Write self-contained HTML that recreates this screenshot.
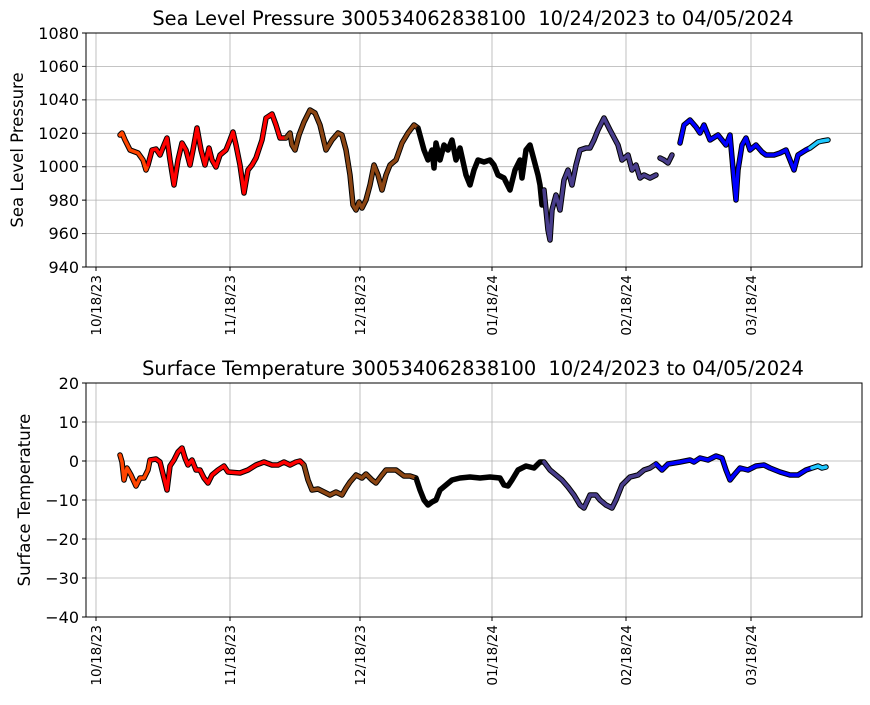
<!DOCTYPE html><html><head><style>body{margin:0;background:#fff}svg{font-family:"DejaVu Sans","Liberation Sans",sans-serif}</style></head><body>
<svg width="870" height="700" xmlns="http://www.w3.org/2000/svg">
<g stroke="#b0b0b0" stroke-width="0.8">
<line x1="96" y1="33" x2="96" y2="267"/><line x1="230" y1="33" x2="230" y2="267"/><line x1="360" y1="33" x2="360" y2="267"/><line x1="492" y1="33" x2="492" y2="267"/><line x1="626" y1="33" x2="626" y2="267"/><line x1="751" y1="33" x2="751" y2="267"/>
<line x1="86" y1="66.4" x2="862" y2="66.4"/><line x1="86" y1="99.9" x2="862" y2="99.9"/><line x1="86" y1="133.3" x2="862" y2="133.3"/><line x1="86" y1="166.7" x2="862" y2="166.7"/><line x1="86" y1="200.1" x2="862" y2="200.1"/><line x1="86" y1="233.6" x2="862" y2="233.6"/>
<line x1="96" y1="383" x2="96" y2="617"/><line x1="230" y1="383" x2="230" y2="617"/><line x1="360" y1="383" x2="360" y2="617"/><line x1="492" y1="383" x2="492" y2="617"/><line x1="626" y1="383" x2="626" y2="617"/><line x1="751" y1="383" x2="751" y2="617"/>
<line x1="86" y1="422" x2="862" y2="422"/><line x1="86" y1="461" x2="862" y2="461"/><line x1="86" y1="500" x2="862" y2="500"/><line x1="86" y1="539" x2="862" y2="539"/><line x1="86" y1="578" x2="862" y2="578"/>
</g>
<g fill="none" stroke-linejoin="round" stroke-linecap="round">
<g stroke="#000" stroke-width="5.5">
<polyline points="120,135 122,133 125,140 130,150 138,153 143,160 146,170 148,165 152,150 156,149 160,155 164,145 167,138 170,160 174,185 178,160 182,143 186,150 190,165 193,150 197,128 201,150 205,165 209,148 212,160 216,167 220,155 226,150 230,140 233,132 236,145 240,165 244,193 248,170 252,165 256,158 262,140 266,118 272,114 276,125 280,138 286,138 290,133 292,145 295,150 299,135 304,122 310,110 315,113 320,125 326,150 332,140 338,133 342,135 346,150 350,175 353,205 356,210 359,202 362,208 366,200 370,185 374,165 378,175 382,190 386,175 390,165 396,160 402,143 408,133 414,125 418,128 424,150 428,160 432,150 434,168 436,143 440,160 444,145 448,150 452,140 456,160 460,148 466,175 470,185 474,170 478,160 484,162 490,160 494,165 498,175 504,178 510,190 515,170 520,160 522,178 526,150 530,145 534,160 538,175 540,185 542,205 544,190 548,230 550,240 552,210 556,195 560,210 564,180 568,170 572,185 576,165 580,150 586,148 590,148 594,140 598,130 604,118 610,130 618,145 622,160 628,155 632,170 636,165 640,178 644,175 650,178 656,175"/>
<polyline points="660,158 664,160 668,163 672,155"/>
<polyline points="680,143 684,125 690,120 696,127 700,133 704,125 710,140 718,135 726,145 730,135 734,180 736,200 738,170 742,145 746,138 750,150 756,145 762,152 766,155 774,155 780,153 786,150 790,160 794,170 798,155 806,150 810,148 814,145 818,142 822,141 828,140"/>
<polyline points="120,455 122,462 124,480 127,468 131,475 136,486 140,478 144,478 148,470 150,460 156,459 160,462 164,478 167,490 170,466 174,460 178,452 182,448 185,458 188,465 192,460 196,470 200,470 204,478 208,483 212,475 218,470 224,466 228,472 240,473 248,470 256,465 264,462 272,465 278,465 284,462 290,465 296,462 300,461 304,465 308,480 312,490 318,489 324,492 330,495 336,492 342,495 346,488 350,482 356,475 362,478 366,474 372,480 376,483 382,475 386,470 396,470 404,476 410,476 416,478 420,490 424,500 428,505 432,502 436,500 440,490 446,485 452,480 460,478 470,477 480,478 490,477 500,478 504,485 508,486 512,480 518,470 526,466 534,468 540,462 544,462 550,470 556,475 562,480 568,487 574,495 580,505 584,508 590,495 596,495 600,500 606,505 612,508 616,500 622,485 630,477 638,475 644,470 650,468 656,464 662,470 668,464 674,463 680,462 690,460 694,462 700,458 708,460 716,456 722,458 726,470 730,480 734,475 740,468 748,470 756,466 764,465 770,468 780,472 790,475 798,475 806,470 812,468 818,466 822,468 826,467"/>
</g>
<g stroke-width="3.5">
<polyline stroke="#ff4500" points="120,135 122,133 125,140 130,150 138,153 143,160 146,170 148,165"/>
<polyline stroke="#ff0000" points="148,165 152,150 156,149 160,155 164,145 167,138 170,160 174,185 178,160 182,143 186,150 190,165 193,150 197,128 201,150 205,165 209,148 212,160 216,167 220,155 226,150 230,140 233,132 236,145 240,165 244,193 248,170 252,165 256,158 262,140 266,118 272,114 276,125 280,138 286,138"/>
<polyline stroke="#8b4513" points="286,138 290,133 292,145 295,150 299,135 304,122 310,110 315,113 320,125 326,150 332,140 338,133 342,135 346,150 350,175 353,205 356,210 359,202 362,208 366,200 370,185 374,165 378,175 382,190 386,175 390,165 396,160 402,143 408,133 414,125 418,128"/>
<polyline stroke="#000" points="418,128 424,150 428,160 432,150 434,168 436,143 440,160 444,145 448,150 452,140 456,160 460,148 466,175 470,185 474,170 478,160 484,162 490,160 494,165 498,175 504,178 510,190 515,170 520,160 522,178 526,150 530,145 534,160 538,175 540,185 542,205 544,190"/>
<polyline stroke="#483d8b" points="544,190 548,230 550,240 552,210 556,195 560,210 564,180 568,170 572,185 576,165 580,150 586,148 590,148 594,140 598,130 604,118 610,130 618,145 622,160 628,155 632,170 636,165 640,178 644,175 650,178 656,175"/>
<polyline stroke="#483d8b" points="660,158 664,160 668,163 672,155"/>
<polyline stroke="#0000ff" points="680,143 684,125 690,120 696,127 700,133 704,125 710,140 718,135 726,145 730,135 734,180 736,200 738,170 742,145 746,138 750,150 756,145 762,152 766,155 774,155 780,153 786,150 790,160 794,170 798,155 806,150 810,148"/>
<polyline stroke="#1ec8ff" points="810,148 814,145 818,142 822,141 828,140"/>
<polyline stroke="#ff4500" points="120,455 122,462 124,480 127,468 131,475 136,486 140,478 144,478 148,470 150,460"/>
<polyline stroke="#ff0000" points="150,460 156,459 160,462 164,478 167,490 170,466 174,460 178,452 182,448 185,458 188,465 192,460 196,470 200,470 204,478 208,483 212,475 218,470 224,466 228,472 240,473 248,470 256,465 264,462 272,465 278,465 284,462 290,465 296,462 300,461 304,465"/>
<polyline stroke="#8b4513" points="304,465 308,480 312,490 318,489 324,492 330,495 336,492 342,495 346,488 350,482 356,475 362,478 366,474 372,480 376,483 382,475 386,470 396,470 404,476 410,476 416,478"/>
<polyline stroke="#000" points="416,478 420,490 424,500 428,505 432,502 436,500 440,490 446,485 452,480 460,478 470,477 480,478 490,477 500,478 504,485 508,486 512,480 518,470 526,466 534,468 540,462 544,462"/>
<polyline stroke="#483d8b" points="544,462 550,470 556,475 562,480 568,487 574,495 580,505 584,508 590,495 596,495 600,500 606,505 612,508 616,500 622,485 630,477 638,475 644,470 650,468 656,464"/>
<polyline stroke="#0000ff" points="656,464 662,470 668,464 674,463 680,462 690,460 694,462 700,458 708,460 716,456 722,458 726,470 730,480 734,475 740,468 748,470 756,466 764,465 770,468 780,472 790,475 798,475 806,470 812,468"/>
<polyline stroke="#1ec8ff" points="812,468 818,466 822,468 826,467"/>
</g></g>
<rect x="86" y="33" width="776" height="234" fill="none" stroke="#000" stroke-width="1"/>
<rect x="86" y="383" width="776" height="234" fill="none" stroke="#000" stroke-width="1"/>
<g stroke="#000" stroke-width="1">
<path d="M82,33H86M82,66.4H86M82,99.9H86M82,133.3H86M82,166.7H86M82,200.1H86M82,233.6H86M82,267H86M96,267V271M230,267V271M360,267V271M492,267V271M626,267V271M751,267V271"/>
<path d="M82,383H86M82,422H86M82,461H86M82,500H86M82,539H86M82,578H86M82,617H86M96,617V621M230,617V621M360,617V621M492,617V621M626,617V621M751,617V621"/>
</g>
<g font-size="19.4" text-anchor="middle"><text x="473" y="25">Sea Level Pressure 300534062838100&#160; 10/24/2023 to 04/05/2024</text><text x="473" y="375">Surface Temperature 300534062838100&#160; 10/24/2023 to 04/05/2024</text></g>
<g font-size="16.5" text-anchor="middle"><text transform="translate(23,150) rotate(-90)">Sea Level Pressure</text><text transform="translate(30,500) rotate(-90)">Surface Temperature</text></g>
<g font-size="16" text-anchor="end">
<text x="79" y="39">1080</text><text x="79" y="72">1060</text><text x="79" y="105">1040</text><text x="79" y="139">1020</text><text x="79" y="172">1000</text><text x="79" y="206">980</text><text x="79" y="239">960</text><text x="79" y="273">940</text>
<text x="79" y="389">20</text><text x="79" y="428">10</text><text x="79" y="467">0</text><text x="79" y="506">−10</text><text x="79" y="545">−20</text><text x="79" y="584">−30</text><text x="79" y="623">−40</text>
</g>
<g font-size="13.5" text-anchor="end">
<text transform="translate(101,275) rotate(-90)">10/18/23</text><text transform="translate(235,275) rotate(-90)">11/18/23</text><text transform="translate(365,275) rotate(-90)">12/18/23</text><text transform="translate(497,275) rotate(-90)">01/18/24</text><text transform="translate(631,275) rotate(-90)">02/18/24</text><text transform="translate(756,275) rotate(-90)">03/18/24</text>
<text transform="translate(101,625) rotate(-90)">10/18/23</text><text transform="translate(235,625) rotate(-90)">11/18/23</text><text transform="translate(365,625) rotate(-90)">12/18/23</text><text transform="translate(497,625) rotate(-90)">01/18/24</text><text transform="translate(631,625) rotate(-90)">02/18/24</text><text transform="translate(756,625) rotate(-90)">03/18/24</text>
</g>
</svg></body></html>
